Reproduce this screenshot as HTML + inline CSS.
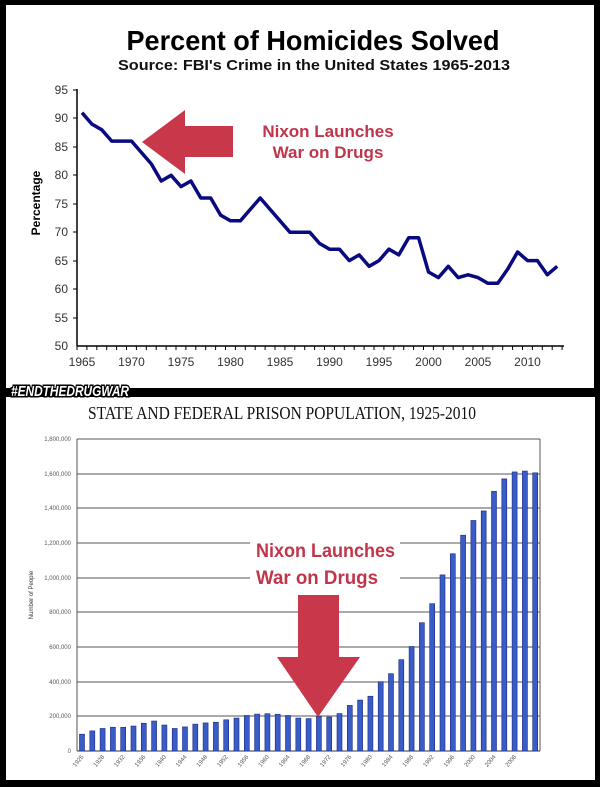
<!DOCTYPE html>
<html><head><meta charset="utf-8"><style>
html,body{margin:0;padding:0;background:#000;}
body{width:600px;height:787px;overflow:hidden;position:relative;}
svg{position:absolute;left:0;top:0;}
</style></head><body>
<svg width="600" height="787" viewBox="0 0 600 787" xmlns="http://www.w3.org/2000/svg" font-family="Liberation Sans, sans-serif">
<rect x="0" y="0" width="600" height="787" fill="#000"/>
<rect x="6" y="5" width="588" height="383" fill="#fff"/>
<rect x="6" y="397" width="589" height="383" fill="#fff"/>

<!-- TOP CHART -->
<text x="313" y="50" text-anchor="middle" font-size="28" font-weight="bold" textLength="373" lengthAdjust="spacingAndGlyphs">Percent of Homicides Solved</text>
<text x="314" y="70" text-anchor="middle" font-size="15" font-weight="bold" fill="#111" textLength="392" lengthAdjust="spacingAndGlyphs">Source: FBI's Crime in the United States 1965-2013</text>
<g stroke="#000" stroke-width="1.5" fill="none">
<line x1="77" y1="89" x2="77" y2="346"/>
<line x1="77" y1="346" x2="564" y2="346"/>
</g>
<g font-size="12" fill="#333" text-anchor="end">
<text x="68" y="94">95</text><text x="68" y="122">90</text><text x="68" y="151">85</text><text x="68" y="179">80</text><text x="68" y="208">75</text><text x="68" y="236">70</text><text x="68" y="265">65</text><text x="68" y="293">60</text><text x="68" y="322">55</text><text x="68" y="350">50</text>
</g>
<g stroke="#000" stroke-width="1">
<line x1="73" y1="90" x2="77" y2="90"/><line x1="73" y1="118" x2="77" y2="118"/><line x1="73" y1="147" x2="77" y2="147"/><line x1="73" y1="175" x2="77" y2="175"/><line x1="73" y1="204" x2="77" y2="204"/><line x1="73" y1="232" x2="77" y2="232"/><line x1="73" y1="261" x2="77" y2="261"/><line x1="73" y1="289" x2="77" y2="289"/><line x1="73" y1="318" x2="77" y2="318"/>
</g>
<g id="xt" stroke="#000" stroke-width="1"></g>
<g font-size="12" fill="#333" text-anchor="middle">
<text x="82" y="366">1965</text><text x="131.5" y="366">1970</text><text x="181" y="366">1975</text><text x="230.5" y="366">1980</text><text x="280" y="366">1985</text><text x="329.5" y="366">1990</text><text x="379" y="366">1995</text><text x="428.5" y="366">2000</text><text x="478" y="366">2005</text><text x="527.5" y="366">2010</text>
</g>
<text transform="translate(40,203) rotate(-90)" text-anchor="middle" font-size="12" font-weight="bold">Percentage</text>
<polyline fill="none" stroke="#0a0a80" stroke-width="3.5" stroke-linejoin="round" points="82,112.7 91.9,124.1 101.8,129.8 111.7,141.1 121.6,141.1 131.5,141.1 141.4,152.5 151.3,163.9 161.2,181 171.1,175.3 181,186.6 190.9,181 200.8,198 210.7,198 220.6,215.1 230.5,220.8 240.4,220.8 250.3,209.4 260.2,198 270.1,209.4 280,220.8 289.9,232.2 299.8,232.2 309.7,232.2 319.6,243.5 329.5,249.2 339.4,249.2 349.3,260.6 359.2,254.9 369.1,266.3 379,260.6 388.9,249.2 398.8,254.9 408.7,237.8 418.6,237.8 428.5,272 438.4,277.6 448.3,266.3 458.2,277.6 468.1,274.8 478,277.6 487.9,283.3 497.8,283.3 507.7,269.1 517.6,252 527.5,260.6 537.4,260.6 547.3,274.8 557.2,266.3"/>
<polygon fill="#c8374a" points="142,142 185,110 185,126 233,126 233,157 185,157 185,174"/>
<g fill="#c0354a" font-size="17" font-weight="bold" text-anchor="middle">
<text x="328" y="137">Nixon Launches</text>
<text x="328" y="158">War on Drugs</text>
</g>

<!-- Logo -->
<text x="70" y="396" text-anchor="middle" font-size="15" font-weight="bold" fill="#fff" stroke="#000" stroke-width="3" paint-order="stroke" textLength="118" lengthAdjust="spacingAndGlyphs" font-style="italic">#ENDTHEDRUGWAR</text>

<!-- BOTTOM CHART -->
<text x="282" y="419" text-anchor="middle" font-family="Liberation Serif, serif" font-size="18" fill="#111" textLength="388" lengthAdjust="spacingAndGlyphs">STATE AND FEDERAL PRISON POPULATION, 1925-2010</text>
<g stroke="#555" stroke-width="1">
<line x1="77" y1="439" x2="540" y2="439"/><line x1="77" y1="474" x2="540" y2="474"/><line x1="77" y1="508" x2="540" y2="508"/><line x1="77" y1="543" x2="540" y2="543"/><line x1="77" y1="578" x2="540" y2="578"/><line x1="77" y1="612" x2="540" y2="612"/><line x1="77" y1="647" x2="540" y2="647"/><line x1="77" y1="682" x2="540" y2="682"/><line x1="77" y1="716" x2="540" y2="716"/>
<line x1="77" y1="439" x2="77" y2="751"/><line x1="540" y1="439" x2="540" y2="751"/>
</g>
<line x1="77" y1="751" x2="540" y2="751" stroke="#333" stroke-width="1"/>
<g font-size="6" fill="#555" text-anchor="end">
<text x="71" y="441">1,800,000</text><text x="71" y="476">1,600,000</text><text x="71" y="510">1,400,000</text><text x="71" y="545">1,200,000</text><text x="71" y="580">1,000,000</text><text x="71" y="614">800,000</text><text x="71" y="649">600,000</text><text x="71" y="684">400,000</text><text x="71" y="718">200,000</text><text x="71" y="753">0</text>
</g>
<text transform="translate(33,595) rotate(-90)" text-anchor="middle" font-size="6" fill="#333">Number of People</text>
<g id="bars" fill="#3a5cc8" stroke="#1a2a80" stroke-width="0.6"></g>
<g id="xl" font-size="6" fill="#555"></g>

<rect x="250" y="538" width="150" height="48" fill="#fff"/>
<g fill="#c0354a" font-size="19" font-weight="bold" text-anchor="start">
<text x="256" y="557" textLength="139" lengthAdjust="spacingAndGlyphs">Nixon Launches</text>
<text x="256" y="584" textLength="122" lengthAdjust="spacingAndGlyphs">War on Drugs</text>
</g>
<polygon fill="#c8374a" points="298,595 339,595 339,657 360,657 318,717 277,657 298,657"/>
</svg>
<script>
var ns="http://www.w3.org/2000/svg";
var xt=document.getElementById("xt");
for(var i=0;i<50;i++){var x=77+9.9*i;var l=document.createElementNS(ns,"line");l.setAttribute("x1",x);l.setAttribute("x2",x);l.setAttribute("y1",346);l.setAttribute("y2",350);xt.appendChild(l);}
var v=[97,116,130,137,137,144,160,173,150,130,139,155,162,166,180,190,205,213,215,212,205,190,187,198,196,216,263,294,316,400,446,527,603,740,850,1016,1138,1245,1330,1385,1498,1570,1610,1615,1605];
var b=document.getElementById("bars");
for(var i=0;i<v.length;i++){var cx=82+i*10.3;var h=v[i]*312/1800;var r=document.createElementNS(ns,"rect");r.setAttribute("x",cx-2.5);r.setAttribute("width",5);r.setAttribute("y",751-h);r.setAttribute("height",h);b.appendChild(r);}
var xl=document.getElementById("xl");
var yrs=[1925,1928,1932,1936,1940,1944,1948,1952,1956,1960,1964,1968,1972,1976,1980,1984,1988,1992,1996,2000,2004,2008];
for(var i=0;i<yrs.length;i++){var cx=82+i*2*10.3;var t=document.createElementNS(ns,"text");t.setAttribute("transform","translate("+(cx+2)+",757) rotate(-50)");t.setAttribute("text-anchor","end");t.textContent=yrs[i];xl.appendChild(t);}
</script>
</body></html>
